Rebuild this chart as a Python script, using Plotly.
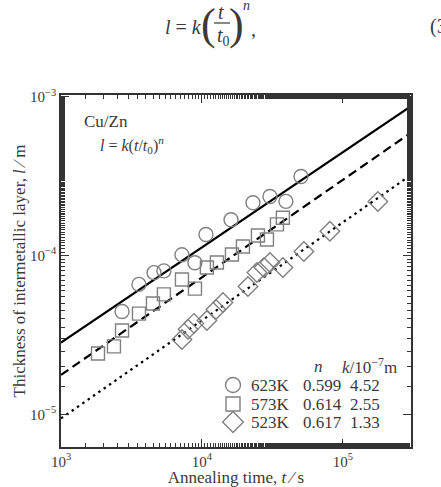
import numpy as np
import plotly.graph_objects as go

# ---------------- data ----------------
temps = ["623K", "573K", "523K"]
n_vals = [0.599, 0.614, 0.617]
k_vals = [4.52, 2.55, 1.33]          # in 1e-7 m

t_623 = [2710, 3570, 4570, 5370, 7210, 8910, 10670, 16070, 23000, 30350, 39400, 50400]
l_623 = [4.44e-5, 6.58e-5, 7.8e-5, 8.0e-5, 1.01e-4, 9.0e-5, 1.355e-4, 1.68e-4, 2.15e-4, 2.35e-4, 2.19e-4, 3.14e-4]

t_573 = [1830, 2375, 2710, 3575, 4490, 5370, 7210, 8920, 10840, 12760, 16320, 19530, 24950, 28900, 34040, 37500]
l_573 = [2.42e-5, 2.68e-5, 3.37e-5, 4.31e-5, 4.99e-5, 5.69e-5, 7.07e-5, 6.19e-5, 8.41e-5, 9.04e-5,
         1.015e-4, 1.14e-4, 1.336e-4, 1.26e-4, 1.57e-4, 1.73e-4]

t_523 = [7210, 7960, 8770, 10840, 12560, 14090, 21190, 24540, 27530, 30350, 37500, 52840, 80800, 177000]
l_523 = [2.96e-5, 3.43e-5, 3.74e-5, 3.90e-5, 4.57e-5, 5.06e-5, 6.38e-5, 7.82e-5, 8.41e-5, 9.04e-5,
         8.41e-5, 1.06e-4, 1.42e-4, 2.19e-4]

t_fit = [1e3, 3.04e5]
xtick_vals = [1e3, 1e4, 1e5]
xtick_text = ["10<sup>3</sup>", "10<sup>4</sup>", "10<sup>5</sup>"]
ytick_vals = [1e-5, 1e-4, 1e-3]
ytick_text = ["10<sup>−5</sup>", "10<sup>−4</sup>", "10<sup>−3</sup>"]

# ---------------- style ----------------
FONT = "Liberation Serif, Times New Roman, serif"
TXT = "#3a3a3a"
MK = "#808080"
symbols = ["circle-open", "square-open", "diamond-open"]
msizes = [14, 13, 15]
dashes = ["solid", "9px,5px", "2.5px,4px"]

W, H = 441, 487
L, R, T, B = 61, 30, 95, 40
pw, ph = W - L - R, H - T - B
def px(x):
    return (x - L) / pw
def py(y):
    return (H - B - y) / ph

fig = go.Figure()

series = [(t_623, l_623), (t_573, l_573), (t_523, l_523)]
for i, (tt, ll) in enumerate(series):
    tf = np.array(t_fit)
    lf = k_vals[i] * 1e-7 * tf ** n_vals[i]
    fig.add_trace(go.Scatter(x=tf, y=lf, mode="lines",
                             line=dict(color="black", width=2.2, dash=dashes[i]),
                             showlegend=False, hoverinfo="skip"))
    fig.add_trace(go.Scatter(x=tt, y=ll, mode="markers",
                             marker=dict(symbol=symbols[i], size=msizes[i],
                                         color=MK, line=dict(width=1.4, color=MK)),
                             showlegend=False))

# custom legend table (overlay axes in 0..1 = paper of plot area)
leg_rows = [385, 404, 422]
LF = dict(family=FONT, size=17, color=TXT)
for i in range(3):
    fig.add_trace(go.Scatter(x=[px(233)], y=[py(leg_rows[i])], xaxis="x2", yaxis="y2", mode="markers",
                             marker=dict(symbol=symbols[i], size=msizes[i] + 1, color=MK,
                                         line=dict(width=1.4, color=MK)),
                             showlegend=False, hoverinfo="skip"))
    fig.add_annotation(x=px(249), y=py(leg_rows[i]), xref="paper", yref="paper", text=temps[i],
                       showarrow=False, xanchor="left", yanchor="middle", font=LF)
    fig.add_annotation(x=px(301), y=py(leg_rows[i]), xref="paper", yref="paper", text=f"{n_vals[i]:.3f}",
                       showarrow=False, xanchor="left", yanchor="middle", font=LF)
    fig.add_annotation(x=px(348), y=py(leg_rows[i]), xref="paper", yref="paper", text=f"{k_vals[i]:.2f}",
                       showarrow=False, xanchor="left", yanchor="middle", font=LF)
fig.add_annotation(x=px(318), y=py(366), xref="paper", yref="paper", text="<i>n</i>",
                   showarrow=False, xanchor="center", yanchor="middle", font=LF)
fig.add_annotation(x=px(340), y=py(366), xref="paper", yref="paper", text="<i>k</i>/10<sup>−7</sup>m",
                   showarrow=False, xanchor="left", yanchor="middle", font=LF)

# in-plot labels
fig.add_annotation(x=px(82), y=py(122), xref="paper", yref="paper", text="Cu/Zn",
                   showarrow=False, xanchor="left", yanchor="middle",
                   font=dict(family=FONT, size=17, color=TXT))
fig.add_annotation(x=px(98), y=py(145), xref="paper", yref="paper",
                   text="<i>l</i> = <i>k</i>(<i>t</i>/<i>t</i><sub>0</sub>)<sup><i>n</i></sup>",
                   showarrow=False, xanchor="left", yanchor="middle",
                   font=dict(family=FONT, size=16, color=TXT))

# equation at the top of the page
eqf = dict(family=FONT, size=20, color=TXT)
fig.add_annotation(x=px(163), y=py(27), xref="paper", yref="paper", text="<i>l</i> = <i>k</i>",
                   showarrow=False, xanchor="left", yanchor="middle", font=eqf)
fig.add_annotation(x=px(208), y=py(24), xref="paper", yref="paper", text="(",
                   showarrow=False, xanchor="center", yanchor="middle",
                   font=dict(family=FONT, size=44, color=TXT))
fig.add_annotation(x=px(236), y=py(24), xref="paper", yref="paper", text=")",
                   showarrow=False, xanchor="center", yanchor="middle",
                   font=dict(family=FONT, size=44, color=TXT))
fig.add_annotation(x=px(221), y=py(12), xref="paper", yref="paper", text="<i>t</i>",
                   showarrow=False, xanchor="center", yanchor="middle", font=eqf)
fig.add_annotation(x=px(223), y=py(37), xref="paper", yref="paper", text="<i>t</i><sub>0</sub>",
                   showarrow=False, xanchor="center", yanchor="middle", font=eqf)
fig.add_annotation(x=px(246), y=py(6), xref="paper", yref="paper", text="<i>n</i>",
                   showarrow=False, xanchor="center", yanchor="middle",
                   font=dict(family=FONT, size=14, color=TXT))
fig.add_annotation(x=px(253), y=py(29), xref="paper", yref="paper", text=",",
                   showarrow=False, xanchor="center", yanchor="middle", font=eqf)
fig.add_annotation(x=px(428), y=py(26), xref="paper", yref="paper", text="(3",
                   showarrow=False, xanchor="left", yanchor="middle", font=eqf)
fig.add_shape(type="line", xref="paper", yref="paper", x0=px(214), x1=px(230),
              y0=py(23), y1=py(23), line=dict(color=TXT, width=1.2))

axis_common = dict(type="log", showgrid=False, zeroline=False, showline=True, automargin=False,
                   linecolor="#333", linewidth=1.5, mirror="ticks", ticks="inside",
                   ticklen=8, tickwidth=1.2, tickcolor="#333",
                   tickfont=dict(family=FONT, size=15, color=TXT),
                   minor=dict(ticks="inside", ticklen=4, tickwidth=1, tickcolor="#333",
                              showgrid=False))

fig.update_layout(
    width=W, height=H, margin=dict(l=L, r=R, t=T, b=B),
    paper_bgcolor="white", plot_bgcolor="white", showlegend=False,
    xaxis=dict(axis_common, range=[3, np.log10(3.04e5)], tickvals=xtick_vals, ticktext=xtick_text,
               title=dict(text="Annealing time, <i>t</i> ∕ s", standoff=3,
                          font=dict(family=FONT, size=17, color=TXT))),
    yaxis=dict(axis_common, range=[-5.205, -2.99], tickvals=ytick_vals, ticktext=ytick_text,
               title=dict(text="Thickness of intermetallic layer, <i>l</i> ∕ m", standoff=0,
                          font=dict(family=FONT, size=17, color=TXT))),
    xaxis2=dict(overlaying="x", range=[0, 1], visible=False),
    yaxis2=dict(overlaying="y", range=[0, 1], visible=False),
)

fig.write_html("out.html")
